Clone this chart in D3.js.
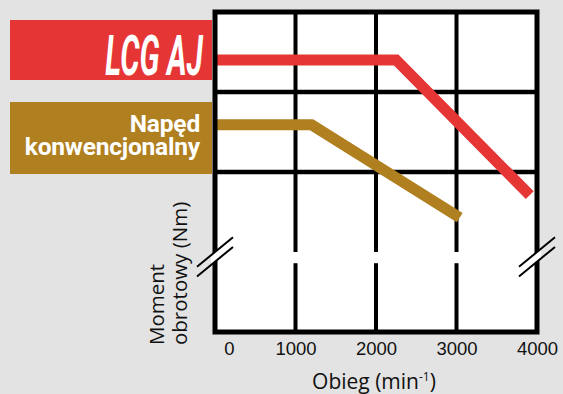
<!DOCTYPE html>
<html>
<head>
<meta charset="utf-8">
<script src="https://cdn.jsdelivr.net/npm/d3@7"></script>
<style>
  html, body { margin: 0; padding: 0; background: #e3e3e3; }
  svg { display: block; }
</style>
</head>
<body>
<svg width="563" height="394"></svg>
<script>
// speed (rpm) ticks shown under the chart
const rpmTicks = [0, 1000, 2000, 3000, 4000];
// torque has no numbers on the axis, values are in grid units (0..4)
const torqueGrid = [2, 3];
const breakAt = [0.86, 1];

// series: [rpm, torque in grid units]
const seriesNames = ["LCG AJ", "Napęd konwencjonalny"];
const lcgRpm = [0, 2250, 3910];
const lcgTorque = [3.4, 3.4, 1.71];
const convRpm = [0, 1200, 3040];
const convTorque = [2.59, 2.59, 1.43];

const red = "#e63535";
const gold = "#b07f1f";

svg = d3.select("svg");

xScale = d3.scaleLinear().domain([0, 4000]).range([215, 537]);
yScale = d3.scaleLinear().domain([0, 4]).range([332, 12]);

// legend boxes on the left, touching the frame
svg.append("rect").attr("x", 10).attr("y", 20).attr("width", 202).attr("height", 60).attr("fill", red);
svg.append("rect").attr("x", 10).attr("y", 102).attr("width", 202).attr("height", 72).attr("fill", gold);

svg.append("text")
  .attr("transform", "translate(203,75) scale(0.54,1)")
  .attr("text-anchor", "end")
  .attr("font-family", "Roboto")
  .attr("font-weight", "bold")
  .attr("font-style", "italic")
  .attr("font-size", 56)
  .attr("fill", "white")
  .text(seriesNames[0]);

// two-line label, one text per line
words = seriesNames[1].split(" ");
svg.selectAll(".conv").data(words).join("text")
  .attr("x", 200)
  .attr("y", (d, i) => 131.8 + i * 23.4)
  .attr("text-anchor", "end")
  .attr("font-family", "Roboto")
  .attr("font-weight", "bold")
  .attr("font-size", 24.5)
  .attr("letter-spacing", -0.2)
  .attr("fill", "white")
  .text(d => d);

// white plot area
svg.append("rect")
  .attr("x", xScale(0)).attr("y", yScale(4))
  .attr("width", xScale(4000) - xScale(0)).attr("height", yScale(0) - yScale(4))
  .attr("fill", "white");

g = svg.append("g");

// horizontal grid
g.selectAll(".hgrid").data(torqueGrid).join("line")
  .attr("x1", xScale(0)).attr("x2", xScale(4000))
  .attr("y1", d => yScale(d)).attr("y2", d => yScale(d))
  .attr("stroke", "black").attr("stroke-width", 4.5);

// vertical grid, broken at the axis break
inner = rpmTicks.slice(1, -1);
g.selectAll(".vtop").data(inner).join("line")
  .attr("x1", d => xScale(d)).attr("x2", d => xScale(d))
  .attr("y1", yScale(4)).attr("y2", yScale(breakAt[1]))
  .attr("stroke", "black").attr("stroke-width", 4);
g.selectAll(".vbot").data(inner).join("line")
  .attr("x1", d => xScale(d)).attr("x2", d => xScale(d))
  .attr("y1", yScale(breakAt[0])).attr("y2", yScale(0))
  .attr("stroke", "black").attr("stroke-width", 4);

line = d3.line().x(d => xScale(d[0])).y(d => yScale(d[1]));

g.append("path")
  .datum(d3.zip(convRpm, convTorque))
  .attr("fill", "none").attr("stroke", gold).attr("stroke-width", 11)
  .attr("stroke-linejoin", "miter")
  .attr("d", line);

g.append("path")
  .datum(d3.zip(lcgRpm, lcgTorque))
  .attr("fill", "none").attr("stroke", red).attr("stroke-width", 11)
  .attr("stroke-linejoin", "miter")
  .attr("d", line);

// frame
svg.append("rect")
  .attr("x", xScale(0)).attr("y", yScale(4))
  .attr("width", xScale(4000) - xScale(0)).attr("height", yScale(0) - yScale(4))
  .attr("fill", "none").attr("stroke", "black").attr("stroke-width", 5);

// break marks on both sides
slope = -0.82;
[0, 4000].forEach(function(v) {
  cx = xScale(v);
  yUp = yScale(breakAt[1]);
  yLo = yScale(breakAt[0]) - 1.5;
  svg.append("path")
    .attr("d", "M" + (cx - 4) + "," + (yUp - 4 * slope) + "L" + (cx + 4) + "," + (yUp + 4 * slope) +
               "L" + (cx + 4) + "," + (yLo + 4 * slope) + "L" + (cx - 4) + "," + (yLo - 4 * slope) + "Z")
    .attr("fill", "white");
  [yUp, yLo].forEach(function(y0) {
    svg.append("line")
      .attr("x1", cx - 18).attr("y1", y0 - 18 * slope)
      .attr("x2", cx + 18).attr("y2", y0 + 18 * slope)
      .attr("stroke", "black").attr("stroke-width", 2);
  });
});

// bottom axis labels
xAxis = d3.axisBottom(xScale).tickValues(rpmTicks).tickFormat(d3.format("d"))
  .tickSize(0).tickPadding(10);
bottom_axis = svg.append("g")
  .attr("transform", "translate(0," + yScale(0) + ")")
  .call(xAxis);
bottom_axis.select(".domain").remove();
bottom_axis.selectAll("text")
  .attr("font-family", "Liberation Sans")
  .attr("font-size", 18.5)
  .attr("fill", "#111")
  .attr("dx", d => d === 0 ? 14 : 0);

xt = svg.append("text")
  .attr("x", 374).attr("y", 389)
  .attr("text-anchor", "middle")
  .attr("font-family", "Open Sans")
  .attr("font-size", 21)
  .attr("fill", "#111");
xt.append("tspan").text("Obieg (min");
xt.append("tspan").attr("font-size", 12).attr("dy", -8).text("-1");
xt.append("tspan").attr("dy", 8).text(")");

yt = svg.append("text")
  .attr("transform", "translate(0,345) rotate(-90)")
  .attr("font-family", "Open Sans")
  .attr("font-size", 20.5)
  .attr("fill", "#111");
yt.append("tspan").attr("x", 0).attr("y", 164).text("Moment");
yt.append("tspan").attr("x", 0).attr("y", 187).text("obrotowy (Nm)");
</script>
</body>
</html>
